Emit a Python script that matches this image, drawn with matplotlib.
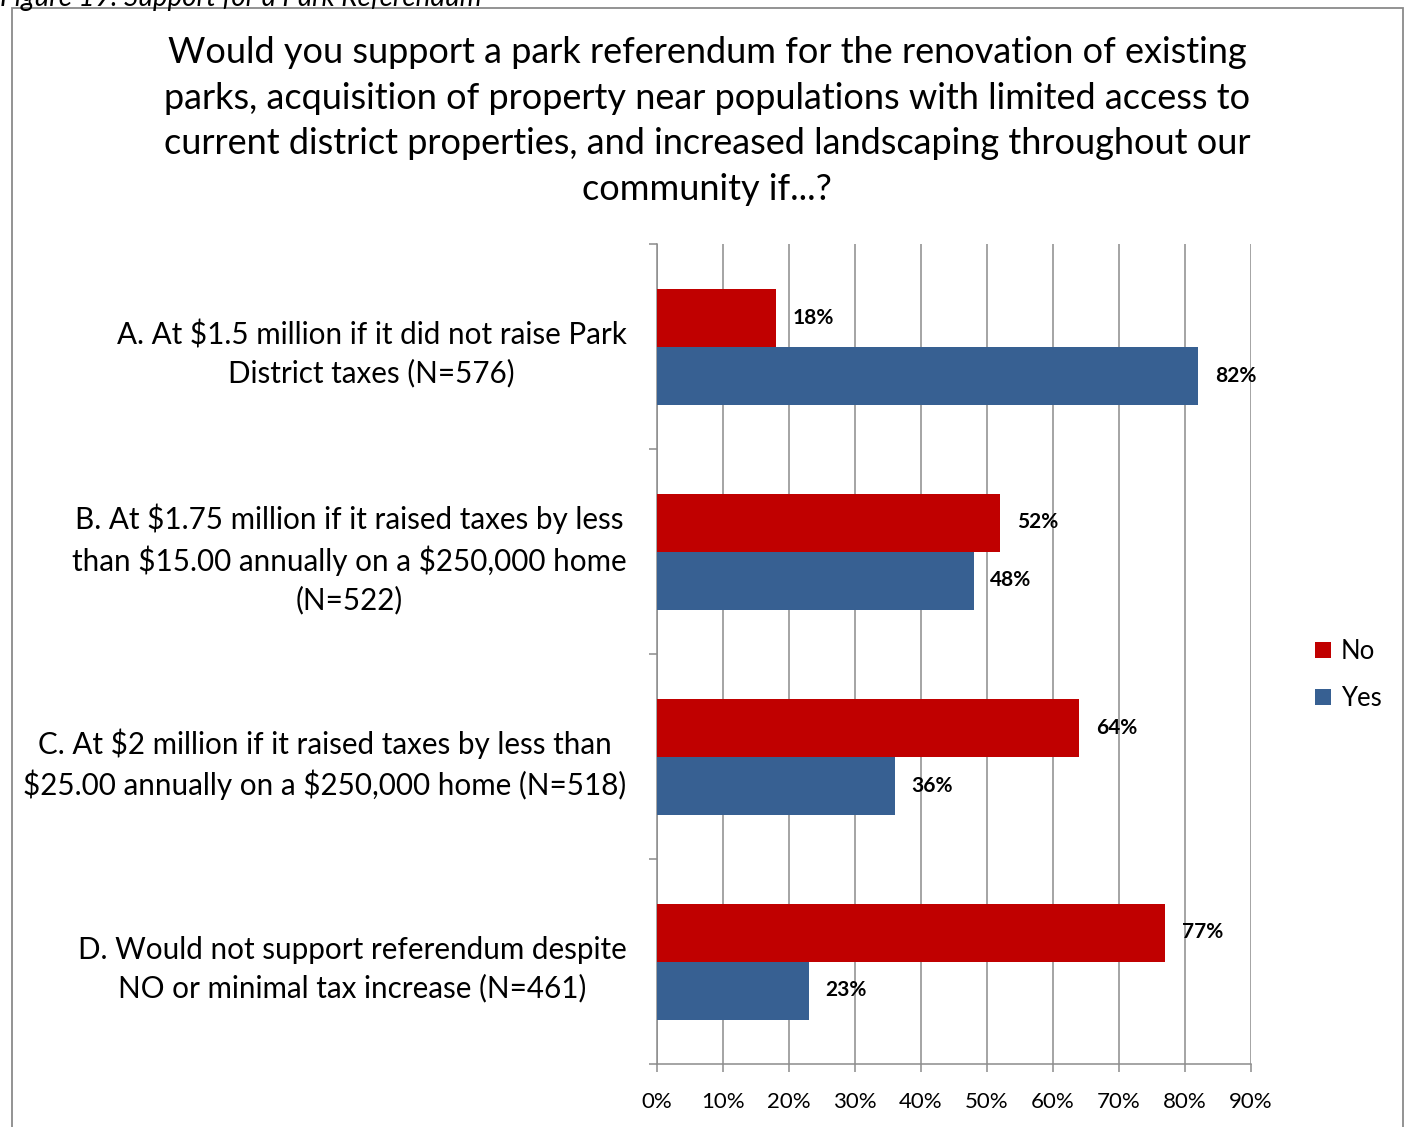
import matplotlib.pyplot as plt
import matplotlib.patches as patches
import numpy as np

# survey results, share of respondents
categories = [
    "A. At \\$1.5 million if it did not raise Park\nDistrict taxes (N=576)",
    "B. At \\$1.75 million if it raised taxes by less\nthan \\$15.00 annually on a \\$250,000 home\n(N=522)",
    "C. At \\$2 million if it raised taxes by less than\n\\$25.00 annually on a \\$250,000 home (N=518)",
    "D. Would not support referendum despite\nNO or minimal tax increase (N=461)",
]
no_vals = [18, 52, 64, 77]
yes_vals = [82, 48, 36, 23]
x_ticks = [0, 10, 20, 30, 40, 50, 60, 70, 80, 90]

title = ("Would you support a park referendum for the renovation of existing\n"
         "parks, acquisition of property near populations with limited access to\n"
         "current district properties, and increased landscaping throughout our\n"
         "community if...?")

plt.rcParams['font.family'] = ['Lato', 'DejaVu Sans']

RED = '#C00000'
BLUE = '#376092'
GRID = '#8c8c8c'

fig = plt.figure(figsize=(14.05, 11.27), dpi=100)

# outer frame and the caption cut off at the top edge
fig.patches.append(patches.Rectangle((12 / 1405, -0.02), (1403 - 12) / 1405, 1.02 - 8 / 1127,
                                     transform=fig.transFigure, fill=False,
                                     edgecolor='#8a8a8a', linewidth=1.3))
fig.text(0.0, 1.0 + 2 / 1127, "Figure 19: Support for a Park Referendum", style='italic',
         fontsize=20, va='center', ha='left')

fig.text(707 / 1405, 1 - 121 / 1127, title, ha='center', va='center', fontsize=26,
         linespacing=1.47, multialignment='center')

ax = fig.add_axes([657 / 1405, 1 - 1064 / 1127, (1251 - 657) / 1405, (1064 - 244) / 1127])

y = np.arange(len(categories))
h = 58 / 205
bars_no = ax.barh(y - h / 2, no_vals, height=h, color=RED, label='No', zorder=3)
bars_yes = ax.barh(y + h / 2, yes_vals, height=h, color=BLUE, label='Yes', zorder=3)

for bars, vals in ((bars_no, no_vals), (bars_yes, yes_vals)):
    for b, v in zip(bars, vals):
        ax.annotate(f"{v}%", (v, b.get_y() + b.get_height() / 2), xytext=(12, 0),
                    textcoords='offset points', va='center', ha='left',
                    fontsize=15, fontweight='bold')

ax.set_xlim(0, 90)
ax.set_ylim(len(categories) - 0.5, -0.5)
ax.set_xticks(x_ticks)
ax.set_xticklabels([f"{t}%" for t in x_ticks], fontsize=16)
ax.set_yticks(y)
ax.set_yticklabels(categories, fontsize=21.3, linespacing=1.42)
for lbl in ax.get_yticklabels():
    lbl.set_multialignment('center')
ax.set_yticks(np.arange(len(categories) + 1) - 0.5, minor=True)

ax.tick_params(axis='y', which='major', length=0, pad=22)
ax.tick_params(axis='y', which='minor', length=6, color=GRID, width=1.1, direction='out')
ax.tick_params(axis='x', length=6, color=GRID, width=1.1, direction='out', pad=14)

ax.grid(axis='x', color=GRID, linewidth=1.1, zorder=0)
ax.set_axisbelow(True)
for side in ('top', 'right'):
    ax.spines[side].set_visible(False)
for side in ('left', 'bottom'):
    ax.spines[side].set_color(GRID)
    ax.spines[side].set_linewidth(1.1)

fig.legend(handles=[bars_no, bars_yes], labels=['No', 'Yes'], loc='center left',
           bbox_to_anchor=(1292 / 1405, 1 - 675 / 1127), frameon=False, fontsize=18.5,
           handlelength=0.6, handleheight=0.6, handletextpad=0.4, labelspacing=0.85)

fig.savefig('out.png', dpi=100)
